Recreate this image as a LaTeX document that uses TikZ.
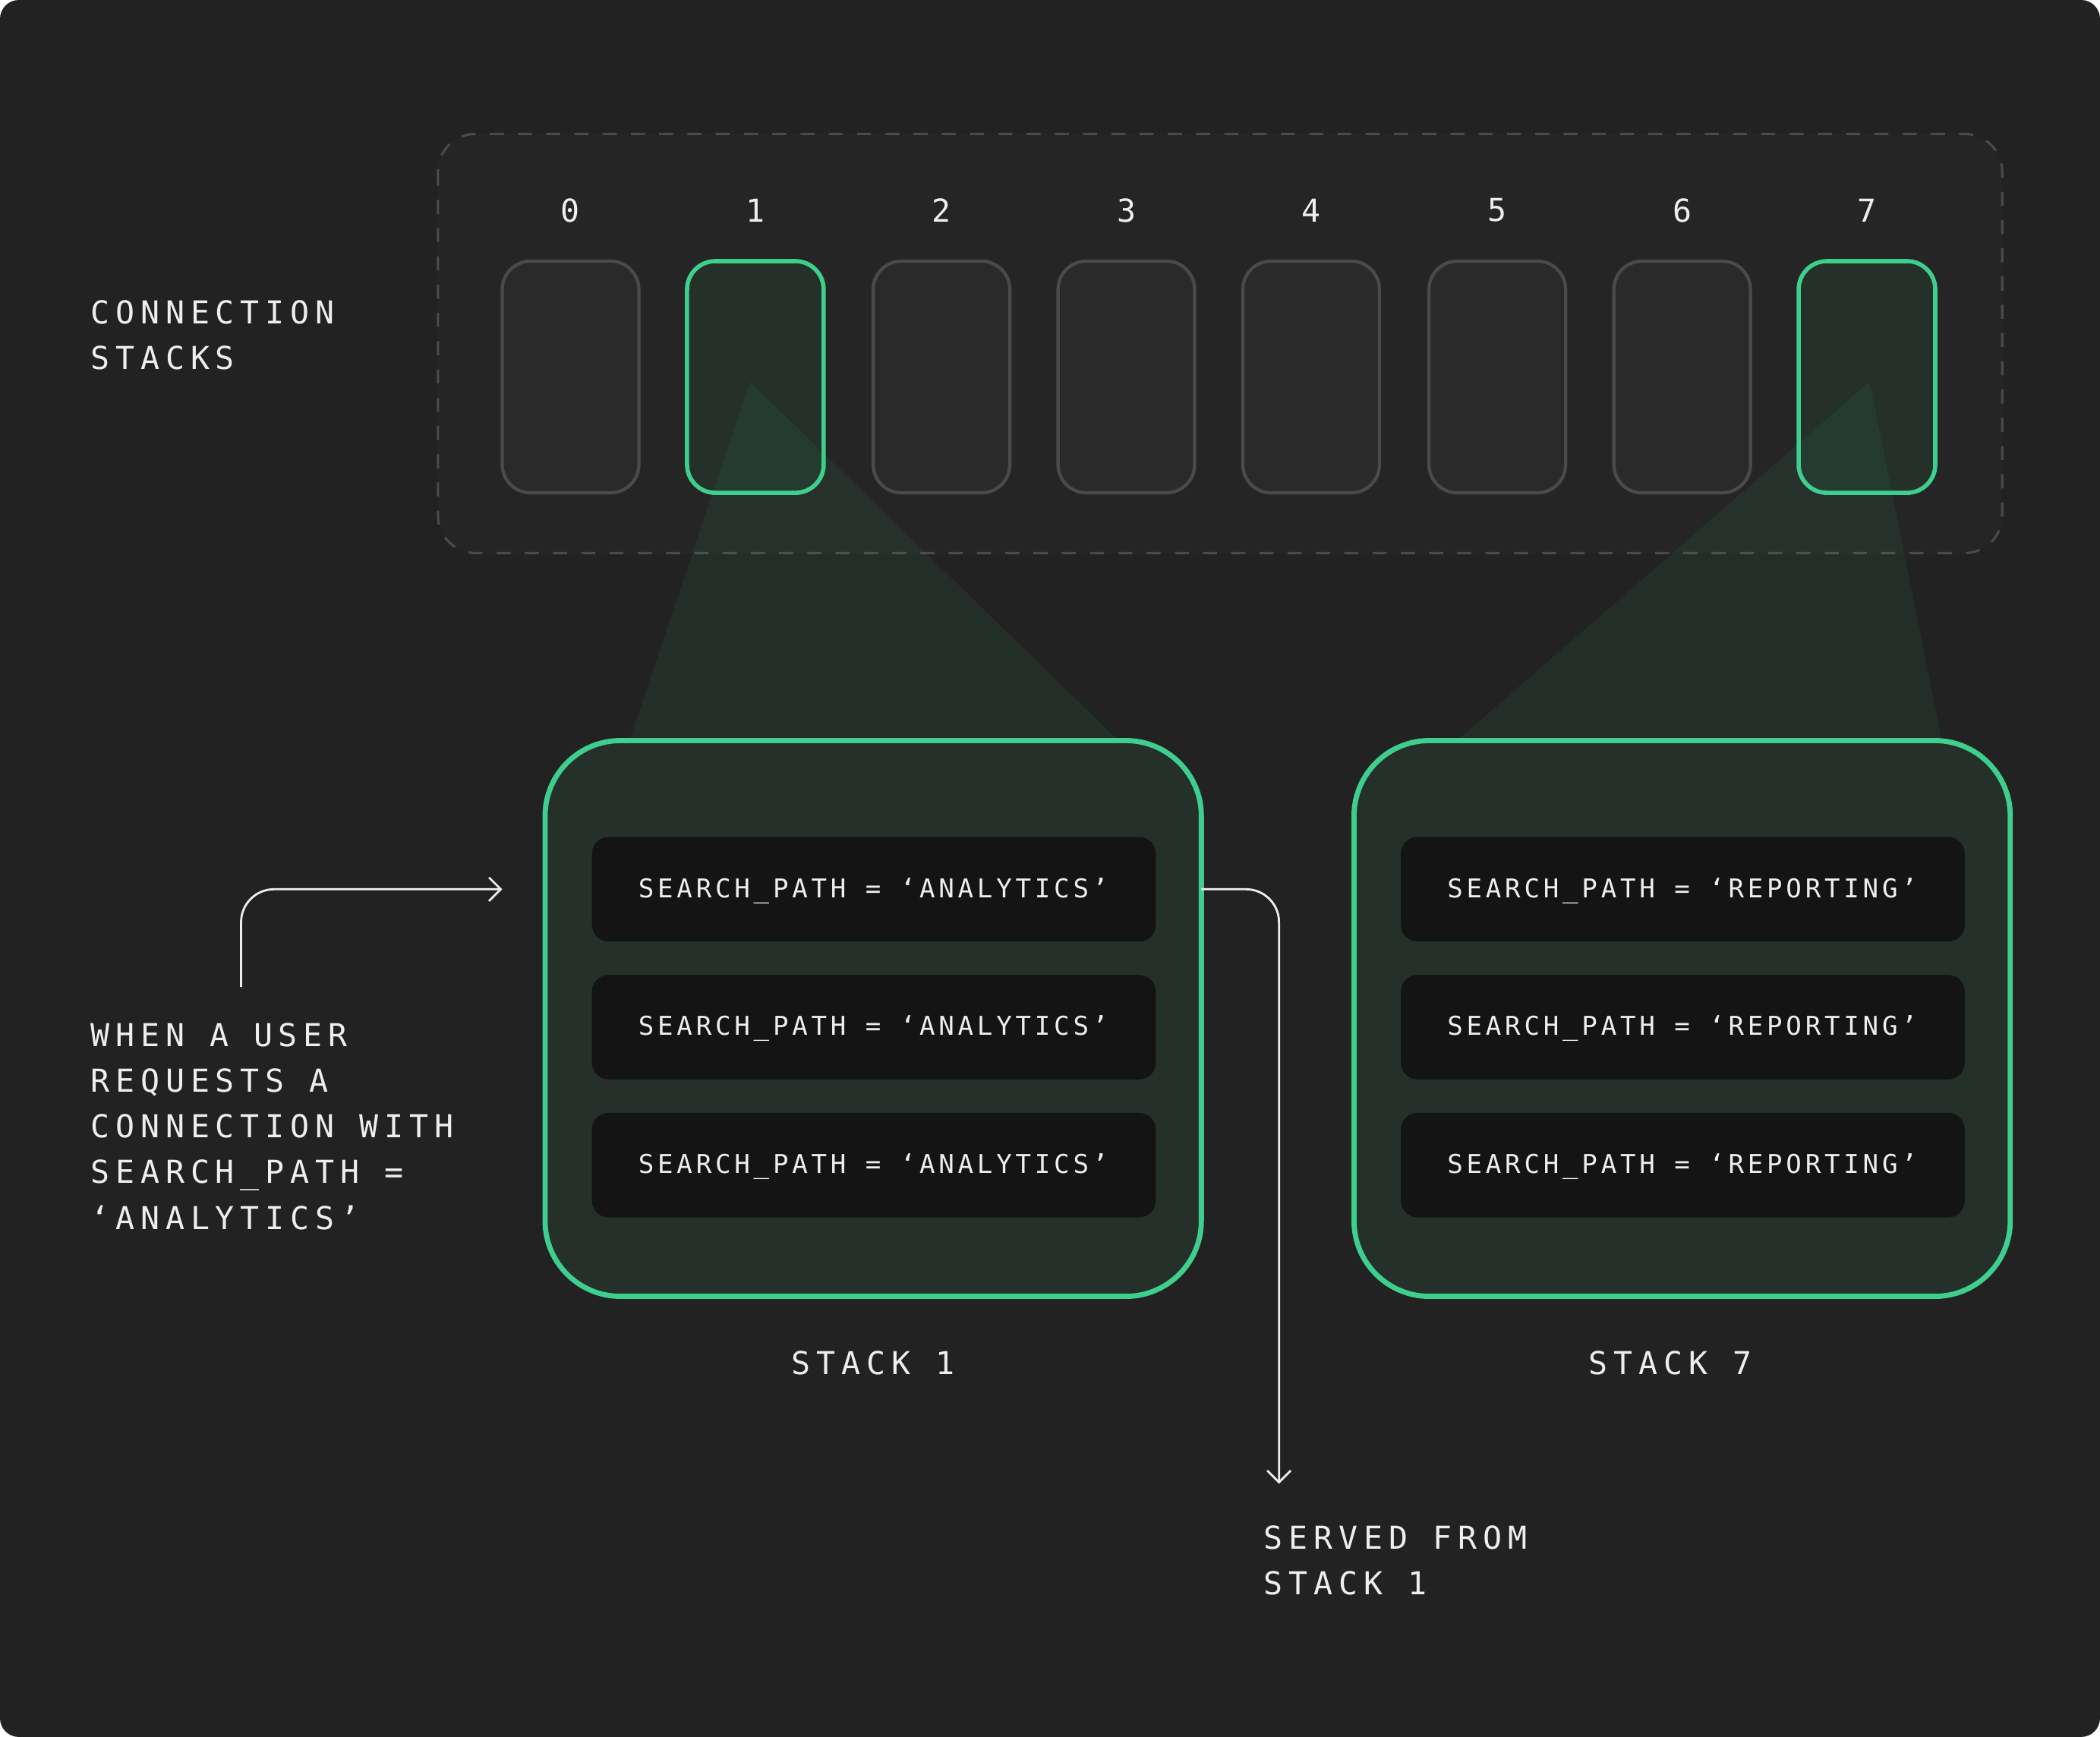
\documentclass[tikz,border=0pt]{standalone}
\usepackage{fontspec}
\setmonofont{DejaVu Sans Mono}
\newfontfamily\lbl[LetterSpace=19]{DejaVu Sans Mono}
\newfontfamily\rowf[LetterSpace=14]{DejaVu Sans Mono}
\usetikzlibrary{arrows.meta}
\definecolor{bg}{HTML}{222222}
\definecolor{grn}{HTML}{3ECF8E}
\definecolor{txt}{HTML}{EEEEEE}
\definecolor{slotfill}{HTML}{2A2A2A}
\definecolor{slotdraw}{HTML}{4A4A4A}
\definecolor{gfill}{HTML}{243029}
\definecolor{rowfill}{HTML}{141414}
\begin{document}
\begin{tikzpicture}[x=0.01cm,y=-0.01cm,
  lab/.style={text=txt,font=\lbl\fontsize{6.7}{9.7}\selectfont,align=left,inner sep=0},
  rowt/.style={text=txt,font=\rowf\fontsize{5.5}{6}\selectfont,inner sep=0},
  slot/.style={draw=slotdraw,fill=slotfill,line width=0.7pt,rounded corners=6pt},
  gslot/.style={draw=grn,fill=gfill,line width=0.9pt,rounded corners=6pt},
  big/.style={draw=grn,fill=gfill,line width=1.1pt,rounded corners=16pt},
  row/.style={fill=rowfill,rounded corners=3.5pt},
  cone/.style={fill=grn,fill opacity=0.07},
  arr/.style={draw=txt,line width=0.45pt,rounded corners=7pt,-{Straight Barb[length=2.5pt,width=5pt]}}]
\useasboundingbox (0,0) rectangle (1568,1297);
\fill[bg,rounded corners=4pt] (0,0) rectangle (1568,1297);
\draw[dashed,draw=slotdraw,fill=white,fill opacity=0.015,rounded corners=8pt,line width=0.5pt] (327,100) rectangle (1495,413);
\foreach \i/\x in {0/426,1/564,2/703,3/841,4/979,5/1118,6/1256,7/1394}{
  \node[lab] (n\i) at (\x,157) {\i};
}
\foreach \i/\x in {0/426,2/703,3/841,4/979,5/1118,6/1256}{
  \draw[slot] (\x-51,195) rectangle (\x+51,368);
}
\draw[gslot] (513,195) rectangle (615,368);
\draw[gslot] (1343,195) rectangle (1445,368);
\node[lab,anchor=west] (cs) at (67,250) {CONNECTION\\STACKS};
% big boxes
\draw[big] (407,553) rectangle (897,968);
\draw[big] (1011,553) rectangle (1501,968);
\fill[cone] (560,285) -- (470,553) -- (835,553) -- cycle;
\fill[cone] (1396,285) -- (1088,553) -- (1450,553) -- cycle;
\foreach \y [count=\k] in {625,728,831}{
  \fill[row] (442,\y) rectangle (863,\y+78);
  \node[rowt] (a\k) at (652,\y+40) {SEARCH\_PATH = ‘ANALYTICS’};
  \fill[row] (1046,\y) rectangle (1467,\y+78);
  \node[rowt] (r\k) at (1256,\y+40) {SEARCH\_PATH = ‘REPORTING’};
}
\node[lab] (l1) at (652,1018) {STACK 1};
\node[lab] (l7) at (1247,1018) {STACK 7};
\node[lab,anchor=west] (q) at (67,841) {WHEN A USER\\REQUESTS A\\CONNECTION WITH\\SEARCH\_PATH =\\‘ANALYTICS’};
\coordinate (qs) at (180,737);
\coordinate (qe) at (375,664);
\draw[arr] (qs) -- (180,664) -- (qe);
\coordinate (os) at (897,664);
\coordinate (oe) at (955,1108);
\draw[arr] (os) -- (955,664) -- (oe);
\node[lab,anchor=west] (sv) at (943,1165) {SERVED FROM\\STACK 1};
\end{tikzpicture}
\end{document}
